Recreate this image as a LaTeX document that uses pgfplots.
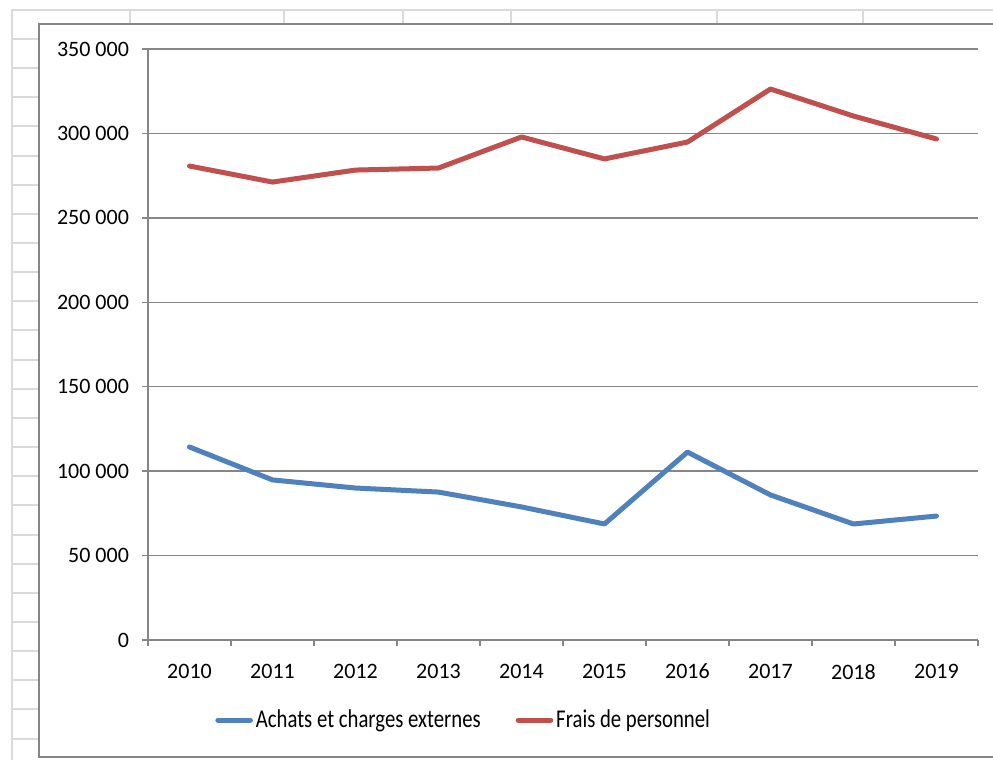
\documentclass[border=0pt]{standalone}
\usepackage{fontspec}
\setmainfont{Carlito}
\newfontfamily\legfont[FakeStretch=0.81]{Carlito}
\usepackage{pgfplots}
\pgfplotsset{compat=1.18}
\definecolor{blueS}{HTML}{4F81BD}
\definecolor{redS}{HTML}{C0504D}
\definecolor{gridG}{HTML}{868686}
\definecolor{sheet}{HTML}{DADADA}
\begin{document}
\begin{tikzpicture}[x=1pt,y=1pt]
\useasboundingbox (-74,-60) rectangle (422.5,320);
\draw[sheet, line width=1pt] (-68,-60) -- (-68,315) -- (422.5,315);
\foreach \c in {-9,68,127.5,181.5,284.5,357.5} {\draw[sheet,line width=1pt] (\c,315) -- (\c,308);}
\foreach \k in {0,...,24} {\pgfmathsetmacro\yy{(640-39-29.15*\k)/2}\draw[sheet,line width=1pt] (-68,\yy) -- (-54.5,\yy);}
\draw[gridG, fill=white, line width=0.75pt] (-54.5,-58.5) rectangle (430,308);
\begin{axis}[
  at={(0,0)}, anchor=south west,
  scale only axis, width=415pt, height=295.5pt,
  xmin=-0.5, xmax=9.5, ymin=0, ymax=350000,
  axis lines*=left,
  axis line style={gridG, line width=0.75pt},
  ytick={0,50000,100000,150000,200000,250000,300000,350000},
  yticklabels={0,50 000,100 000,150 000,200 000,250 000,300 000,350 000},
  ymajorgrids, grid style={gridG, line width=0.75pt},
  xtick={0,...,9},
  xticklabels={2010,2011,2012,2013,2014,2015,2016,2017,2018,2019},
  minor xtick={-0.5,0.5,...,9.5},
  tick align=outside, major tick length=3pt, minor tick length=3pt,
  major x tick style={draw=none},
  minor x tick style={gridG, line width=0.75pt},
  y tick style={gridG, line width=0.75pt},
  scaled y ticks=false,
  tick label style={font=\fontsize{11}{13}\selectfont, text=black},
  yticklabel style={xshift=-3pt},
  xticklabel style={yshift=-5.5pt},
  legend columns=2,
  legend style={draw=none, fill=none, inner sep=0pt,
    at={(axis description cs:0.0807,-0.1354)}, anchor=west,
    font=\legfont\fontsize{12.8}{14}\selectfont,
    /tikz/every even column/.append style={column sep=16pt},
    nodes={inner xsep=1.5pt, inner ysep=2pt}},
  legend image code/.code={\draw[#1, line cap=round] (1.25pt,0pt) -- (17.5pt,0pt);},
]
\addplot[blueS, line width=2.5pt, line join=round, line cap=round] coordinates {
(0,114300) (1,94800) (2,90000) (3,87600) (4,78800) (5,68700) (6,111300) (7,85900) (8,68700) (9,73400)};
\addlegendentry{Achats et charges externes}
\addplot[redS, line width=2.5pt, line join=round, line cap=round] coordinates {
(0,280700) (1,271200) (2,278300) (3,279500) (4,297900) (5,284900) (6,294900) (7,326300) (8,310300) (9,296700)};
\addlegendentry{Frais de personnel}
\end{axis}
\end{tikzpicture}
\end{document}
